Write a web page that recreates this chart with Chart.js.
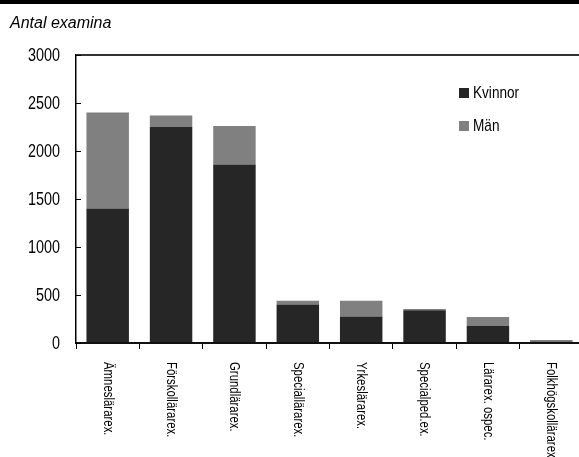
<!DOCTYPE html>
<html>
<head>
<meta charset="utf-8">
<script src="https://cdn.jsdelivr.net/npm/chart.js@4.4.1/dist/chart.umd.min.js"></script>
<style>
html,body{margin:0;padding:0;overflow:hidden;background:#fff;}
#wrap{position:absolute;left:0;top:0;width:590px;height:457px;}
</style>
</head>
<body>
<div id="wrap"><canvas id="c" width="590" height="457"></canvas></div>
<script>
const categories = ["Ämneslärarex.", "Förskollärarex.", "Grundlärarex.", "Speciallärarex.", "Yrkeslärarex.", "Specialped.ex.", "Lärarex. ospec.", "Folkhögskollärarex."];
const kvinnor = [1400, 2250, 1860, 400, 275, 340, 180, 15];
const man = [1000, 120, 400, 40, 165, 15, 90, 15];
const yTicks = [0, 500, 1000, 1500, 2000, 2500, 3000];
const titleText = "Antal examina";

const SANS = "'Liberation Sans', Arial, sans-serif";
const SQ = 0.8; // horizontal condensation to mimic a narrow face

function narrowText(ctx, text, x, y, align) {
  ctx.save();
  ctx.translate(x, y);
  ctx.scale(SQ, 1);
  ctx.textAlign = align;
  ctx.fillText(text, 0, 0);
  ctx.restore();
}

const decor = {
  id: 'decor',
  afterDraw(chart) {
    const ctx = chart.ctx;
    const area = chart.chartArea;
    const x = chart.scales.x, y = chart.scales.y;
    ctx.save();
    // top black band
    ctx.fillStyle = '#000';
    ctx.fillRect(0, 0, chart.width, 4);
    // title
    ctx.fillStyle = '#000';
    ctx.font = "italic 16px " + SANS;
    ctx.textAlign = 'left';
    ctx.textBaseline = 'alphabetic';
    ctx.fillText(titleText, 10, 28);
    // inward y ticks + labels
    ctx.strokeStyle = '#000';
    ctx.lineWidth = 1;
    ctx.font = "18px " + SANS;
    ctx.textBaseline = 'middle';
    yTicks.forEach(v => {
      const py = Math.round(y.getPixelForValue(v)) + 0.5;
      ctx.beginPath();
      ctx.moveTo(area.left, py);
      ctx.lineTo(area.left + 5, py);
      ctx.stroke();
      narrowText(ctx, String(v), area.left - 16, py + 0.5, 'right');
    });
    // x labels rotated clockwise
    ctx.fillStyle = '#000';
    ctx.font = "15px " + SANS;
    ctx.textBaseline = 'middle';
    categories.forEach((lab, i) => {
      const px = x.getPixelForValue(i);
      ctx.save();
      ctx.translate(px, area.bottom + 19);
      ctx.rotate(Math.PI / 2);
      ctx.scale(0.76, 1);
      ctx.textAlign = 'left';
      ctx.fillText(lab, 0, 0);
      ctx.restore();
    });
    // legend
    ctx.font = "17px " + SANS;
    ctx.textBaseline = 'middle';
    chart.data.datasets.forEach((ds, i) => {
      const ly = 88 + i * 33;
      ctx.fillStyle = ds.backgroundColor;
      ctx.fillRect(459, ly, 10, 10);
      ctx.fillStyle = '#000';
      narrowText(ctx, ds.label, 473, ly + 5, 'left');
    });
    ctx.restore();
  }
};

new Chart(document.getElementById('c'), {
  type: 'bar',
  data: {
    labels: categories,
    datasets: [
      { label: 'Kvinnor', data: kvinnor, backgroundColor: '#262626', borderWidth: 0 },
      { label: 'Män', data: man, backgroundColor: '#808080', borderWidth: 0 }
    ]
  },
  options: {
    responsive: false,
    animation: false,
    devicePixelRatio: 1,
    layout: { padding: { top: 55, right: 7, left: 0, bottom: 0 } },
    datasets: { bar: { categoryPercentage: 1, barPercentage: 0.67 } },
    plugins: { legend: { display: false }, tooltip: { enabled: false }, title: { display: false } },
    scales: {
      x: {
        stacked: true,
        afterFit(s) { s.height = 114; },
        grid: { offset: true, drawOnChartArea: false, drawTicks: true, tickLength: 6, color: '#000', lineWidth: 1 },
        border: { display: true, color: '#111', width: 2 },
        ticks: { display: false }
      },
      y: {
        stacked: true,
        min: 0, max: 3000,
        afterFit(s) { s.width = 76; },
        afterBuildTicks(s) { s.ticks = yTicks.map(v => ({ value: v })); },
        grid: {
          drawTicks: false,
          drawOnChartArea: true,
          color: c => (c.tick && c.tick.value === 3000) ? '#333' : 'rgba(0,0,0,0)',
          lineWidth: 2
        },
        border: { display: true, color: '#000', width: 1.5 },
        ticks: { display: false }
      }
    }
  },
  plugins: [decor]
});
</script>
</body>
</html>
